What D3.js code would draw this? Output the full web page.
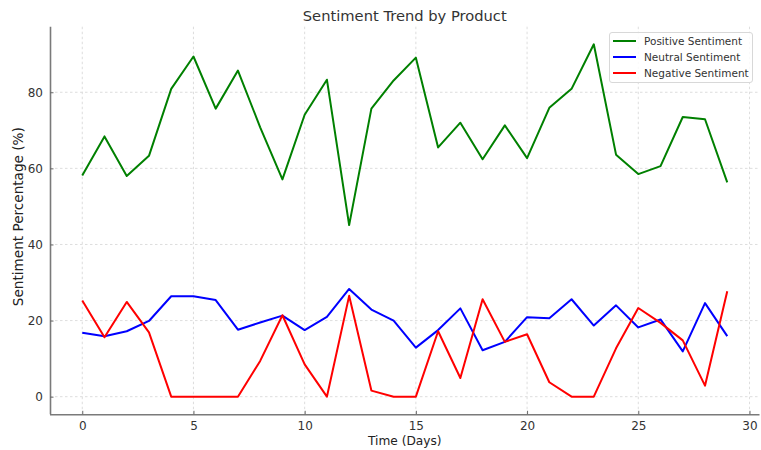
<!DOCTYPE html>
<html>
<head>
<meta charset="utf-8">
<script src="https://cdn.jsdelivr.net/npm/d3@7"></script>
<style>
  html, body { margin: 0; padding: 0; background: #fff; }
  svg { display: block; font-family: "DejaVu Sans", sans-serif; }
</style>
</head>
<body>
<svg id="chart" width="761" height="450"></svg>
<script>
const days = d3.range(0, 30);
const positive = [58.1, 68.4, 58.0, 63.3, 80.9, 89.4, 75.7, 85.7, 70.8, 57.1,
                  74.1, 83.3, 45.1, 75.7, 83.1, 89.1, 65.5, 72.0, 62.4, 71.3,
                  62.7, 75.9, 80.9, 92.6, 63.6, 58.5, 60.6, 73.5, 72.9, 56.3];
const neutral  = [16.8, 15.9, 17.2, 19.9, 26.4, 26.4, 25.4, 17.6, 19.5, 21.3,
                  17.5, 21.0, 28.3, 22.9, 20.0, 12.9, 17.5, 23.2, 12.2, 14.4,
                  20.9, 20.6, 25.6, 18.7, 24.0, 18.2, 20.3, 11.9, 24.6, 15.9];
const negative = [25.3, 15.6, 24.9, 16.9, 0.0, 0.0, 0.0, 0.0, 9.4, 21.4,
                  8.5, 0.0, 26.5, 1.6, 0.0, 0.0, 17.2, 4.9, 25.6, 14.4,
                  16.4, 3.8, 0.0, 0.0, 12.7, 23.3, 19.4, 14.8, 2.9, 27.7];
const seriesNames = ["Positive Sentiment", "Neutral Sentiment", "Negative Sentiment"];
const seriesColors = ["#008000", "#0000ff", "#ff0000"];
const xTicks = [0, 5, 10, 15, 20, 25, 30];
const yTicks = [0, 20, 40, 60, 80];

(function () {
const series = [positive, neutral, negative];

const svg = d3.select("#chart");
const pLeft = 50, pRight = 759.5, pTop = 26.7, pBottom = 414.3;

const allVals = series.flat();
const ymin = d3.min(allVals), ymax = d3.max(allVals);
const ypad = (ymax - ymin) * 0.05;
const xpad = (d3.max(days) - d3.min(days)) * 0.05;

const x = d3.scaleLinear().domain([d3.min(days) - xpad, d3.max(days) + xpad]).range([pLeft, pRight]);
const y = d3.scaleLinear().domain([ymin - ypad, ymax + ypad]).range([pBottom, pTop]);

// grid
const grid = svg.append("g");
grid.selectAll(".gx").data(xTicks).join("line")
  .attr("x1", d => x(d)).attr("x2", d => x(d))
  .attr("y1", pTop).attr("y2", pBottom)
  .attr("stroke", "#cfcfcf").attr("stroke-width", 0.7).attr("stroke-dasharray", "2.5,2.5");
grid.selectAll(".gy").data(yTicks).join("line")
  .attr("x1", pLeft).attr("x2", pRight)
  .attr("y1", d => y(d)).attr("y2", d => y(d))
  .attr("stroke", "#cfcfcf").attr("stroke-width", 0.7).attr("stroke-dasharray", "2.5,2.5");

// lines
const line = d3.line().x((d, i) => x(days[i])).y(d => y(d));
series.forEach((s, k) => {
  svg.append("path").datum(s)
    .attr("fill", "none")
    .attr("stroke", seriesColors[k])
    .attr("stroke-width", 2)
    .attr("stroke-linejoin", "round")
    .attr("d", line);
});

// axes
const xAxis = d3.axisBottom(x).tickValues(xTicks).tickSize(-3.5).tickPadding(7);
const yAxis = d3.axisLeft(y).tickValues(yTicks).tickSize(-3.5).tickPadding(7);

const gx = svg.append("g").attr("transform", `translate(0,${pBottom})`).call(xAxis);
const gy = svg.append("g").attr("transform", `translate(${pLeft},0)`).call(yAxis);
[gx, gy].forEach(g => {
  g.select(".domain").attr("stroke", "#7a7a7a").attr("stroke-width", 1.6);
  g.selectAll(".tick line").attr("stroke", "#6a6a6a").attr("stroke-width", 1);
  g.selectAll(".tick text").attr("fill", "#333").style("font-size", "12px")
    .style("font-family", "DejaVu Sans, sans-serif");
});
gx.select(".domain").attr("d", `M${pLeft},0.5H${pRight}`);
gy.select(".domain").attr("d", `M0.5,${pBottom}V${pTop}`);

// title and labels
svg.append("text").attr("x", (pLeft + pRight) / 2).attr("y", 20.5)
  .attr("text-anchor", "middle").attr("fill", "#333").style("font-size", "14.7px")
  .text("Sentiment Trend by Product");
svg.append("text").attr("x", (pLeft + pRight) / 2).attr("y", 445)
  .attr("text-anchor", "middle").attr("fill", "#222").style("font-size", "12.2px")
  .text("Time (Days)");
svg.append("text").attr("transform", `translate(23,216.7) rotate(-90)`)
  .attr("text-anchor", "middle").attr("fill", "#222").style("font-size", "13.6px")
  .text("Sentiment Percentage (%)");

// legend
const lg = svg.append("g");
lg.append("rect").attr("x", 609.5).attr("y", 32.5).attr("width", 143).attr("height", 50)
  .attr("rx", 2.5).attr("fill", "#fff").attr("fill-opacity", 0.85)
  .attr("stroke", "#d8d8d8").attr("stroke-width", 1);
seriesNames.forEach((name, k) => {
  const yy = 41 + k * 16;
  lg.append("line").attr("x1", 613).attr("x2", 636).attr("y1", yy).attr("y2", yy)
    .attr("stroke", seriesColors[k]).attr("stroke-width", 2);
  lg.append("text").attr("x", 644).attr("y", yy + 3.8).attr("fill", "#333")
    .style("font-size", "10.5px").text(name);
});
})();
</script>
</body>
</html>
